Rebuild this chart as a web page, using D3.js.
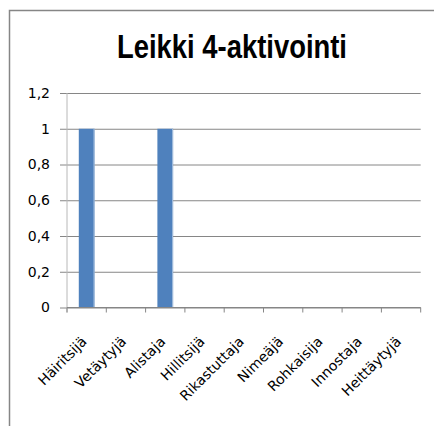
<!DOCTYPE html>
<html>
<head>
<meta charset="utf-8">
<script src="https://cdn.jsdelivr.net/npm/d3@7"></script>
<style>
  html, body { margin: 0; padding: 0; background: #fff; }
  svg { display: block; }
</style>
</head>
<body>
<svg id="chart" width="434" height="426"></svg>
<script>
// Roles counted in the play session, one bar per role
const categories = ["Häiritsijä", "Vetäytyjä", "Alistaja", "Hillitsijä", "Rikastuttaja", "Nimeäjä", "Rohkaisija", "Innostaja", "Heittäytyjä"];
const values = [1, 0, 1, 0, 0, 0, 0, 0, 0];
const yTicks = [0, 0.2, 0.4, 0.6, 0.8, 1, 1.2];
const titleText = "Leikki 4-aktivointi";

const svg = d3.select("#chart");
const plot = { left: 67, right: 420.7, top: 93, bottom: 307.5 };
const labelFont = "'DejaVu Sans', Verdana, sans-serif";

// Outer chart frame
svg.append("rect")
  .attr("x", 9.5).attr("y", 10.5)
  .attr("width", 440).attr("height", 440)
  .attr("fill", "#fff")
  .attr("stroke", "#868686")
  .attr("stroke-width", 1.5);

// Title
svg.append("text")
  .attr("x", 232).attr("y", 58)
  .attr("text-anchor", "middle")
  .attr("font-family", "'Liberation Sans Narrow', 'Arial Narrow', 'Liberation Sans', sans-serif")
  .attr("font-weight", "bold")
  .attr("font-size", 33)
  .attr("textLength", 230)
  .attr("lengthAdjust", "spacingAndGlyphs")
  .attr("fill", "#000")
  .text(titleText);

const x = d3.scaleBand()
  .domain(categories)
  .range([plot.left, plot.right])
  .paddingInner(0.6)
  .paddingOuter(0.3);

const y = d3.scaleLinear()
  .domain([0, 1.2])
  .range([plot.bottom, plot.top]);

const fmt = d => String(+d.toFixed(1)).replace(".", ",");

// Horizontal gridlines and y tick labels
const yAxis = d3.axisLeft(y)
  .tickValues(yTicks)
  .tickSize(-(plot.right - plot.left))
  .tickSizeOuter(0)
  .tickPadding(17)
  .tickFormat(fmt);

const gy = svg.append("g")
  .attr("transform", `translate(${plot.left},0)`)
  .call(yAxis);
gy.select(".domain").remove();
gy.selectAll(".tick line")
  .attr("x1", -7)
  .attr("stroke", "#868686")
  .attr("stroke-width", 1);
gy.selectAll(".tick text")
  .attr("font-family", labelFont)
  .attr("font-size", 14)
  .attr("fill", "#000");

// Vertical axis line
svg.append("line")
  .attr("x1", plot.left).attr("x2", plot.left)
  .attr("y1", plot.top).attr("y2", plot.bottom + 5)
  .attr("stroke", "#b8b8b8")
  .attr("stroke-width", 1);

// Bars
const barData = categories.map((c, i) => ({ c, v: values[i] }));
const bars = svg.append("g");
bars.selectAll("rect.bar")
  .data(barData)
  .join("rect")
  .attr("class", "bar")
  .attr("x", d => x(d.c))
  .attr("y", d => y(d.v))
  .attr("width", x.bandwidth())
  .attr("height", d => y(0) - y(d.v))
  .attr("fill", "#4f81bd");
bars.selectAll("rect.edge")
  .data(barData.filter(d => d.v > 0))
  .join("rect")
  .attr("class", "edge")
  .attr("x", d => x(d.c) + x.bandwidth() - 1)
  .attr("y", d => y(d.v))
  .attr("width", 1)
  .attr("height", d => y(0) - y(d.v))
  .attr("fill", "#a7c0de");

// Category axis: baseline, boundary ticks, rotated labels
svg.append("line")
  .attr("x1", plot.left).attr("x2", plot.right)
  .attr("y1", y(0)).attr("y2", y(0))
  .attr("stroke", "#868686");

const step = x.step();
const bounds = d3.range(categories.length + 1).map(i => plot.left + i * step);
svg.append("g").selectAll("line")
  .data(bounds)
  .join("line")
  .attr("x1", d => d).attr("x2", d => d)
  .attr("y1", y(0)).attr("y2", y(0) + 5)
  .attr("stroke", "#868686");

svg.append("g").selectAll("text")
  .data(categories)
  .join("text")
  .attr("transform", d => `translate(${x(d) + x.bandwidth() / 2 + 1},${y(0) + 35}) rotate(-45)`)
  .attr("text-anchor", "end")
  .attr("font-family", labelFont)
  .attr("font-size", 14)
  .attr("fill", "#000")
  .text(d => d);
</script>
</body>
</html>
